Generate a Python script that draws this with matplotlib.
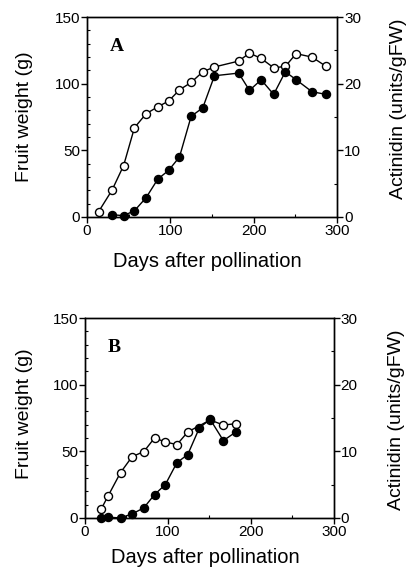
import matplotlib
matplotlib.use("Agg")
import matplotlib.pyplot as plt
from matplotlib.ticker import MultipleLocator

plt.rcParams['font.family'] = ['Liberation Sans', 'DejaVu Sans']

# Panel A: fruit weight (g, open) and actinidin (units/gFW, filled)
days_a_open = [14, 30, 44, 57, 71, 85, 98, 111, 125, 139, 153, 182, 195, 209, 224, 238, 251, 270, 287]
weight_a = [4, 20, 38.6, 67, 77.5, 82.7, 87, 95.4, 101, 109, 112.6, 117, 123, 119, 112, 113, 122.6, 120, 113]
days_a_fill = [30, 44, 57, 71, 85, 98, 111, 125, 139, 153, 182, 195, 209, 224, 238, 251, 270, 287]
actinidin_a = [0.34, 0.2, 0.94, 2.9, 5.68, 7.0, 9.0, 15.1, 16.4, 21.2, 21.6, 19.0, 20.6, 18.4, 21.8, 20.6, 18.8, 18.4]

# Panel B
days_b_open = [20, 28, 43, 57, 71, 84, 97, 111, 124, 151, 167, 182]
weight_b = [7, 16.5, 34, 46, 49.7, 60, 57, 55, 64.5, 73.5, 69.7, 70.7]
days_b_fill = [20, 28, 43, 57, 71, 84, 97, 111, 124, 138, 151, 167, 182]
actinidin_b = [0.0, 0.1, 0.0, 0.6, 1.5, 3.5, 5.0, 8.3, 9.5, 13.5, 14.8, 11.6, 12.9]

# letter, data, axes rect, xlabel (x, y), left ylabel (x, y), right ylabel (x, y)
panels = [
    ("A", days_a_open, weight_a, days_a_fill, actinidin_a,
     [0.211, 0.620, 0.607, 0.350], (0.48, -0.175), (-0.216, 0.5), (1.212, 0.54)),
    ("B", days_b_open, weight_b, days_b_fill, actinidin_b,
     [0.206, 0.093, 0.604, 0.350], (0.486, -0.15), (-0.209, 0.52), (1.22, 0.49)),
]

fig = plt.figure(figsize=(4.12, 5.71), dpi=100)

for letter, xo, yo, xf, yf, rect, xlab, ylab_l, ylab_r in panels:
    ax = fig.add_axes(rect)
    ax2 = ax.twinx()

    ax.plot(xo, yo, '-o', color='black', mfc='white', mec='black',
            ms=5.8, lw=1.0, mew=1.0, clip_on=False, zorder=3)
    ax2.plot(xf, yf, '-o', color='black', mfc='black', mec='black',
             ms=5.8, lw=1.0, clip_on=False, zorder=3)

    ax.set_xlim(0, 300)
    ax.set_ylim(0, 150)
    ax2.set_ylim(0, 30)
    ax.set_xticks([0, 100, 200, 300])
    ax.set_yticks([0, 50, 100, 150])
    ax2.set_yticks([0, 10, 20, 30])
    ax.xaxis.set_minor_locator(MultipleLocator(50))
    ax.yaxis.set_minor_locator(MultipleLocator(10))
    ax2.yaxis.set_minor_locator(MultipleLocator(5))

    ax.tick_params(which='major', direction='out', length=4, width=1, labelsize=11, pad=1)
    ax.tick_params(which='minor', direction='in', length=2, width=0.8)
    ax2.tick_params(which='major', direction='out', length=4, width=1, labelsize=11, pad=1)
    ax2.tick_params(which='minor', direction='in', length=2, width=0.8)

    for a in (ax, ax2):
        for s in a.spines.values():
            s.set_linewidth(1.0)

    ax.set_xlabel("Days after pollination", fontsize=14.5)
    ax.xaxis.set_label_coords(*xlab)
    ax.set_ylabel("Fruit weight (g)", fontsize=14)
    ax.yaxis.set_label_coords(*ylab_l)
    ax2.set_ylabel("Actinidin (units/gFW)", fontsize=14, rotation=90)
    ax2.yaxis.set_label_coords(*ylab_r)

    ax.text(0.09, 0.83, letter, transform=ax.transAxes, fontsize=14,
            fontweight='bold', family=['Liberation Serif', 'DejaVu Serif'])

fig.savefig("out.png", dpi=100)
